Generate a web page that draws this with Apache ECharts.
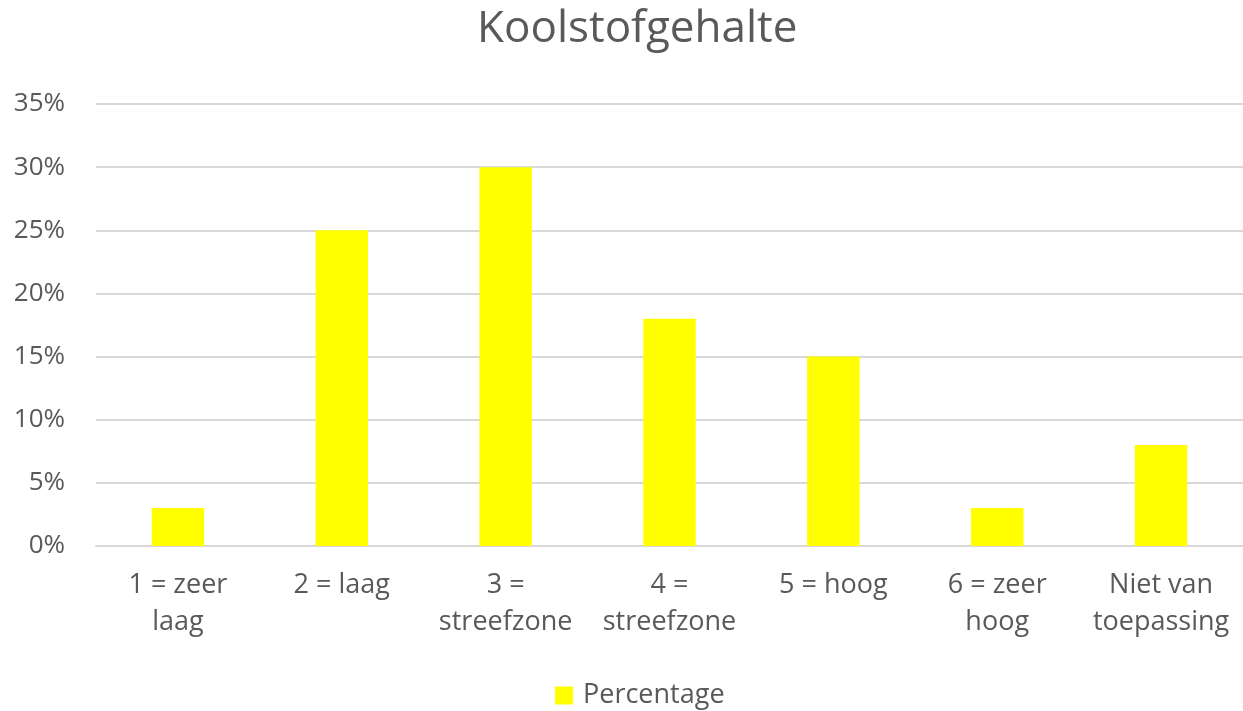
<!DOCTYPE html>
<html>
<head>
<meta charset="utf-8">
<script src="https://cdn.jsdelivr.net/npm/echarts@6/dist/echarts.min.js"></script>
<style>html,body{margin:0;padding:0;background:#fff}#c{width:1243px;height:711px}</style>
</head>
<body>
<div id="c"></div>
<script>
var categories = ['1 = zeer\nlaag', '2 = laag', '3 =\nstreefzone', '4 =\nstreefzone', '5 = hoog', '6 = zeer\nhoog', 'Niet van\ntoepassing'];
var percentage = [3, 25, 30, 18, 15, 3, 8];
var yTicks = [0, 5, 10, 15, 20, 25, 30, 35];

var chart = echarts.init(document.getElementById('c'), null, {renderer: 'canvas'});
var font = '"Open Sans", "Liberation Sans", sans-serif';
chart.setOption({
  animation: false,
  backgroundColor: '#ffffff',
  title: {
    text: 'Koolstofgehalte',
    left: 472,
    top: 2,
    textStyle: {fontFamily: font, fontSize: 44, fontWeight: 'normal', color: '#595959'}
  },
  legend: {
    data: ['Percentage'],
    top: 677,
    left: 550,
    itemWidth: 18,
    itemHeight: 18,
    icon: 'rect',
    textStyle: {fontFamily: font, fontSize: 27, color: '#595959', padding: [0, 0, 0, 5]}
  },
  grid: {left: 96, right: -2, top: 104, bottom: 165, containLabel: false},
  xAxis: {
    type: 'category',
    data: categories,
    axisLine: {show: true, lineStyle: {color: '#d9d9d9', width: 2}},
    axisTick: {show: false},
    axisLabel: {fontFamily: font, fontSize: 27, color: '#595959', lineHeight: 37, margin: 21, interval: 0}
  },
  yAxis: {
    type: 'value',
    min: yTicks[0],
    max: yTicks[yTicks.length - 1],
    interval: 5,
    axisLine: {show: false},
    axisTick: {show: false},
    splitLine: {lineStyle: {color: '#d9d9d9', width: 2}},
    axisLabel: {fontFamily: font, fontSize: 26, color: '#595959', margin: 31, formatter: '{value}%'}
  },
  series: [{
    name: 'Percentage',
    type: 'bar',
    data: percentage,
    barWidth: '32%',
    itemStyle: {color: '#ffff00'}
  }]
});
</script>
</body>
</html>
